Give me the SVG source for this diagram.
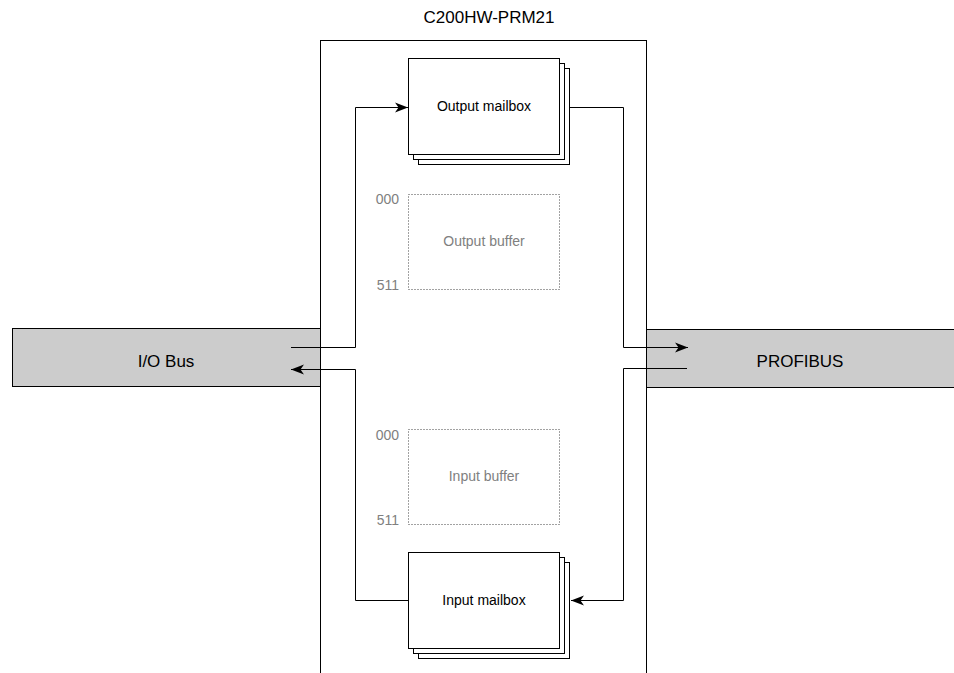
<svg xmlns="http://www.w3.org/2000/svg" width="954" height="673" viewBox="0 0 954 673">
<style>
.lbl{font-family:"Liberation Sans",Arial,sans-serif;fill:#000}
.gray{font-family:"Liberation Sans",Arial,sans-serif;fill:#808080;font-size:14px}
.box{fill:#fff;stroke:#000;stroke-width:1}
.bus{fill:#cccccc;stroke:#000;stroke-width:1}
.dot{fill:none;stroke:#444;stroke-width:1;stroke-dasharray:1 2}
.conn{fill:none;stroke:#000;stroke-width:1}
</style>
<defs>
<marker id="arr" markerWidth="14" markerHeight="12" refX="13" refY="6" orient="auto" markerUnits="userSpaceOnUse">
<path d="M0,1 L13,6 L0,11 L3.5,6 Z" fill="#000"/>
</marker>
</defs>
<g id="module">
<rect class="box" x="320.5" y="40.5" width="326" height="640"/>
<text class="lbl" x="489" y="23" font-size="17" text-anchor="middle">C200HW-PRM21</text>
</g>
<g id="io-bus">
<rect class="bus" x="12.5" y="328.5" width="308" height="58"/>
<text class="lbl" x="166" y="367" font-size="17" text-anchor="middle">I/O Bus</text>
</g>
<g id="profibus">
<rect class="bus" x="646.5" y="329.5" width="320" height="58"/>
<text class="lbl" x="800" y="367" font-size="17" text-anchor="middle">PROFIBUS</text>
</g>
<g id="output-mailbox">
<rect class="box" x="418.5" y="68.5" width="151" height="96"/>
<rect class="box" x="413.5" y="63.5" width="151" height="96"/>
<rect class="box" x="408.5" y="58.5" width="151" height="96"/>
<text class="lbl" x="484" y="111" font-size="14" text-anchor="middle">Output mailbox</text>
</g>
<g id="output-buffer">
<rect class="dot" x="408.5" y="194.5" width="151" height="95"/>
<text class="gray" x="484" y="246" text-anchor="middle">Output buffer</text>
<text class="gray" x="399" y="204" text-anchor="end">000</text>
<text class="gray" x="399" y="290" text-anchor="end">511</text>
</g>
<g id="input-buffer">
<rect class="dot" x="408.5" y="429.5" width="151" height="95"/>
<text class="gray" x="484" y="481" text-anchor="middle">Input buffer</text>
<text class="gray" x="399" y="440" text-anchor="end">000</text>
<text class="gray" x="399" y="525" text-anchor="end">511</text>
</g>
<g id="input-mailbox">
<rect class="box" x="418.5" y="562.5" width="151" height="96"/>
<rect class="box" x="413.5" y="557.5" width="151" height="96"/>
<rect class="box" x="408.5" y="552.5" width="151" height="96"/>
<text class="lbl" x="484" y="605" font-size="14" text-anchor="middle">Input mailbox</text>
</g>
<g id="connectors">
<path class="conn" d="M291,347.5 H355.5 V107.5 H408" marker-end="url(#arr)"/>
<path class="conn" d="M570,107.5 H623.5 V347.5 H688" marker-end="url(#arr)"/>
<path class="conn" d="M687,368.5 H623.5 V600.5 H571" marker-end="url(#arr)"/>
<path class="conn" d="M408,600.5 H355.5 V369.5 H291" marker-end="url(#arr)"/>
</g>
</svg>
